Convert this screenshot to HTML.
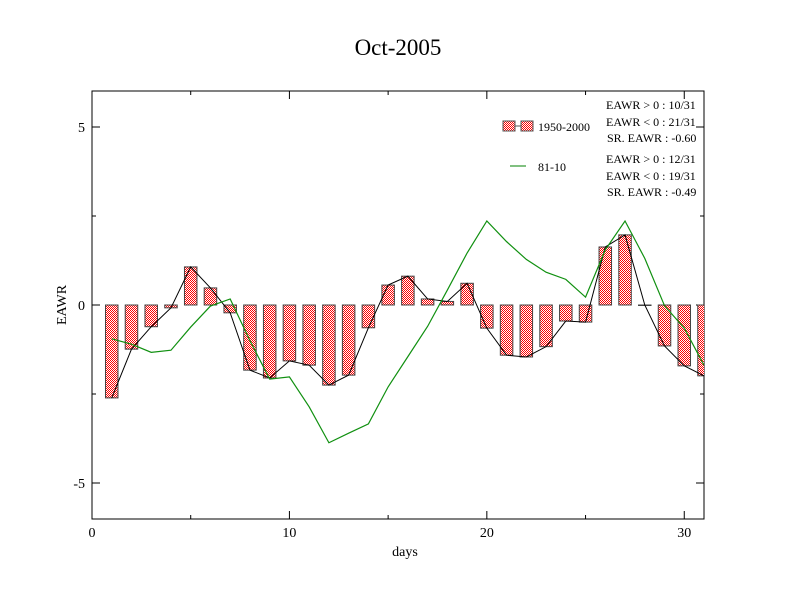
<!DOCTYPE html>
<html><head><meta charset="utf-8"><style>
body{margin:0;background:#fff}
svg{display:block;font-family:"Liberation Serif",serif}
</style></head><body>
<svg width="792" height="612" viewBox="0 0 792 612">
<defs>
<pattern id="chk" width="2" height="2" patternUnits="userSpaceOnUse">
<rect width="2" height="2" fill="#fff"/><rect width="1" height="1" fill="#f00"/><rect x="1" y="1" width="1" height="1" fill="#f00"/>
</pattern>
<clipPath id="clip"><rect x="92" y="91" width="612" height="428"/></clipPath>
</defs>
<text x="398" y="55" font-size="23" text-anchor="middle">Oct-2005</text>
<rect x="92" y="91" width="612" height="428" fill="none" stroke="#000" stroke-width="1"/>
<g id="axes"></g>
<g id="bars" clip-path="url(#clip)"></g>
<g id="lines" clip-path="url(#clip)"></g>
<text x="405" y="556" font-size="14" text-anchor="middle">days</text>
<text transform="translate(66,305) rotate(-90)" font-size="14" text-anchor="middle">EAWR</text>
<g>
<rect x="503" y="121" width="12" height="10" fill="url(#chk)" stroke="#555"/>
<line x1="515" y1="126" x2="521" y2="126" stroke="#555"/>
<rect x="521" y="121" width="12" height="10" fill="url(#chk)" stroke="#555"/>
<text x="538" y="131" font-size="12">1950-2000</text>
<line x1="510" y1="166" x2="526" y2="166" stroke="#008000"/>
<text x="538" y="171" font-size="12">81-10</text>
<g font-size="12">
<text x="606" y="109">EAWR &gt; 0 : 10/31</text>
<text x="606" y="126">EAWR &lt; 0 : 21/31</text>
<text x="607" y="142">SR. EAWR : -0.60</text>
<text x="606" y="163">EAWR &gt; 0 : 12/31</text>
<text x="606" y="180">EAWR &lt; 0 : 19/31</text>
<text x="607" y="196">SR. EAWR : -0.49</text>
</g>
</g>
</svg>
<script>
const days=[1,2,3,4,5,6,7,8,9,10,11,12,13,14,15,16,17,18,19,20,21,22,23,24,25,26,27,28,29,30,31];
const eawr=[-2.61,-1.24,-0.61,-0.08,1.07,0.48,-0.22,-1.83,-2.05,-1.57,-1.69,-2.25,-1.97,-0.64,0.56,0.81,0.17,0.1,0.61,-0.65,-1.41,-1.46,-1.17,-0.45,-0.48,1.63,1.97,0,-1.15,-1.71,-1.99];
const clim=[-0.95,-1.1,-1.33,-1.27,-0.62,-0.03,0.17,-1.0,-2.08,-2.02,-2.86,-3.87,-3.6,-3.34,-2.3,-1.45,-0.6,0.42,1.46,2.36,1.78,1.28,0.92,0.72,0.22,1.55,2.36,1.31,-0.02,-0.65,-1.69];
const xTicks=[0,10,20,30];
const yTicks=[5,0,-5];
const X=d=>92+d*(612/31);
const Y=v=>305-v*35.6;
const NS="http://www.w3.org/2000/svg";
function mk(t,a,p){const e=document.createElementNS(NS,t);for(const k in a)e.setAttribute(k,a[k]);p.appendChild(e);return e;}
const axes=document.getElementById('axes');
xTicks.forEach(t=>{
 const x=X(t);
 mk('line',{x1:x,y1:519,x2:x,y2:511,stroke:'#000'},axes);
 mk('line',{x1:x,y1:91,x2:x,y2:99,stroke:'#000'},axes);
 const tx=mk('text',{x:x,y:537,'font-size':14,'text-anchor':'middle'},axes);
 tx.textContent=t;
 
 
});
[5,15,25].forEach(t=>{const x=X(t);
 mk('line',{x1:x,y1:519,x2:x,y2:515,stroke:'#000'},axes);
 mk('line',{x1:x,y1:91,x2:x,y2:95,stroke:'#000'},axes);});
yTicks.forEach(t=>{
 const y=Y(t);
 mk('line',{x1:92,y1:y,x2:100,y2:y,stroke:'#000'},axes);
 mk('line',{x1:704,y1:y,x2:696,y2:y,stroke:'#000'},axes);
 const tx=mk('text',{x:85,y:y+5,'font-size':14,'text-anchor':'end'},axes);
 tx.textContent=t;
 
 
});
[2.5,-2.5].forEach(t=>{const y=Y(t);
 mk('line',{x1:92,y1:y,x2:96,y2:y,stroke:'#000'},axes);
 mk('line',{x1:704,y1:y,x2:700,y2:y,stroke:'#000'},axes);});
const bars=document.getElementById('bars');
const bw=12.5;
days.forEach((d,i)=>{
 const v=eawr[i];const x=X(d)-bw/2;
 const y0=Math.min(Y(0),Y(v)),h=Math.abs(Y(v)-Y(0));
 const r=mk('rect',{x:x,y:y0,width:bw,height:Math.max(h,0.5),fill:'url(#chk)',stroke:'#444','stroke-width':1},bars);
 
 
});
const lines=document.getElementById('lines');
const p1=mk('polyline',{points:days.map((d,i)=>X(d)+','+Y(eawr[i])).join(' '),fill:'none',stroke:'#000','stroke-width':1},lines);


const p2=mk('polyline',{points:days.map((d,i)=>X(d)+','+Y(clim[i])).join(' '),fill:'none',stroke:'#109010','stroke-width':1.2},lines);


</script>
</body></html>
